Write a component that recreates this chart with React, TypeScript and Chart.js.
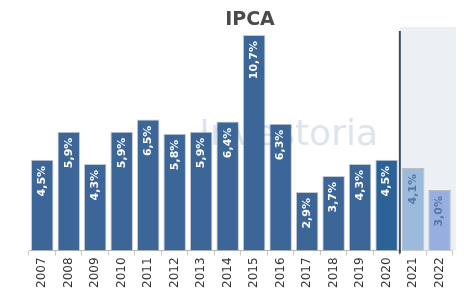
import React, { useEffect, useRef } from "react";
import { Chart, registerables } from "chart.js";

Chart.register(...registerables);

const categories = ["2007","2008","2009","2010","2011","2012","2013","2014","2015","2016","2017","2018","2019","2020","2021","2022"];
const ipcaValues = [4.5, 5.9, 4.3, 5.9, 6.5, 5.8, 5.9, 6.4, 10.7, 6.3, 2.9, 3.7, 4.3, 4.5, 4.1, 3.0];
const barColors = ["#3c6598","#3c6598","#3c6598","#3c6598","#3c6598","#3c6598","#3c6598","#3c6598","#3c6598","#3c6598","#3c6598","#3c6598","#3c6598","#2b6399","#9cbadc","#97afe0"];
const labelColors = ["#ffffff","#ffffff","#ffffff","#ffffff","#ffffff","#ffffff","#ffffff","#ffffff","#ffffff","#ffffff","#ffffff","#ffffff","#ffffff","#ffffff","#5576a8","#5576a8"];
const forecastStart = "2021";
const titleText = "IPCA";
const watermarkText = "Investoria";

const fmt = (v: number) => v.toFixed(1).replace(".", ",") + "%";

const decorPlugin = {
  id: "decor",
  beforeDatasetsDraw(chart: any) {
    const { ctx, chartArea, scales } = chart;
    const xs = scales.x;
    const idx = categories.indexOf(forecastStart);
    const half = (xs.getPixelForValue(1) - xs.getPixelForValue(0)) / 2;
    const bx = xs.getPixelForValue(idx) - half;
    ctx.save();
    ctx.fillStyle = "#eceff3";
    ctx.fillRect(bx, chartArea.top, chartArea.right + 3 - bx, chartArea.bottom - chartArea.top);
    ctx.font = "36px 'DejaVu Sans'";
    ctx.fillStyle = "rgba(205,217,231,0.7)";
    ctx.textAlign = "right";
    ctx.textBaseline = "alphabetic";
    ctx.fillText(watermarkText, 370, 137);
    ctx.restore();
  },
  afterDatasetsDraw(chart: any) {
    const { ctx, chartArea, scales } = chart;
    const xs = scales.x;
    const meta = chart.getDatasetMeta(0);
    ctx.save();
    ctx.font = "bold 11px 'DejaVu Sans'";
    ctx.textAlign = "right";
    ctx.textBaseline = "middle";
    meta.data.forEach((bar: any, i: number) => {
      ctx.save();
      ctx.translate(bar.x, bar.y + 6);
      ctx.rotate(-Math.PI / 2);
      ctx.fillStyle = labelColors[i];
      ctx.fillText(fmt(ipcaValues[i]), 0, 0);
      ctx.restore();
    });
    const idx = categories.indexOf(forecastStart);
    const half = (xs.getPixelForValue(1) - xs.getPixelForValue(0)) / 2;
    const bx = xs.getPixelForValue(idx) - half;
    ctx.strokeStyle = "#3b4b63";
    ctx.lineWidth = 2;
    ctx.beginPath();
    ctx.moveTo(bx, chartArea.top + 4);
    ctx.lineTo(bx, chartArea.bottom + 3);
    ctx.stroke();
    ctx.font = "bold 19px 'DejaVu Sans'";
    ctx.fillStyle = "#4a4a4a";
    ctx.textAlign = "center";
    ctx.textBaseline = "middle";
    ctx.fillText(titleText, 242, 12);
    ctx.restore();
  },
};

export default function App() {
  const ref = useRef<HTMLCanvasElement>(null);
  useEffect(() => {
    if (!ref.current) return;
    const chart = new Chart(ref.current, {
      type: "bar",
      data: {
        labels: categories,
        datasets: [
          {
            data: ipcaValues,
            backgroundColor: barColors,
            borderColor: "rgba(90,100,120,0.35)",
            borderWidth: 1,
            barPercentage: 0.85,
            categoryPercentage: 1,
          },
        ],
      },
      options: {
        animation: false,
        responsive: true,
        maintainAspectRatio: false,
        layout: { padding: { left: 21, right: 1, top: 19, bottom: 4 } },
        plugins: { legend: { display: false }, title: { display: false }, tooltip: { enabled: false } },
        scales: {
          y: { display: false, min: 0, max: 11.1 },
          x: {
            grid: { display: true, drawOnChartArea: false, drawTicks: true, tickLength: 5, color: "#c8c8c8", offset: true },
            border: { display: true, color: "#b8b8b8" },
            ticks: {
              minRotation: 90,
              maxRotation: 90,
              color: "#333333",
              font: { family: "'DejaVu Sans'", size: 12 },
              padding: 2,
            },
          },
        },
      },
      plugins: [decorPlugin],
    });
    return () => chart.destroy();
  }, []);
  return (
    <div style={{ width: 448, height: 286 }}>
      <canvas ref={ref} />
    </div>
  );
}
